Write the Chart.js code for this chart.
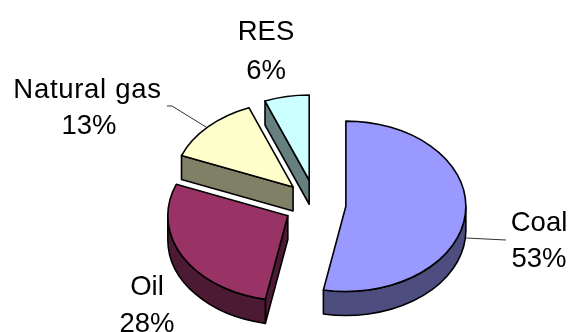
<!DOCTYPE html>
<html>
<head>
<meta charset="utf-8">
<style>
  html, body { margin: 0; padding: 0; background: #fff; overflow: hidden; }
  canvas { display: block; }
</style>
<script src="https://cdn.jsdelivr.net/npm/chart.js@4/dist/chart.umd.min.js"></script>
</head>
<body>
<canvas id="pie" width="568" height="332"></canvas>
<script>
// Shares of primary energy sources
const categories = ['Coal', 'Oil', 'Natural gas', 'RES'];
const shares = [53, 28, 13, 6];
const topColors = ['#9999FF', '#993366', '#FFFFCC', '#CCFFFF'];
const wallColors = ['#4D4D80', '#4D1A33', '#808066', '#668080'];

// Tilted-disc appearance and label placement
const tilt = { centerY: 204, squash: 0.71, explodeSquash: 0.78, depth: 24, explode: 31, edge: 1.6 };
const labelSpots = [
  { x: 539, y: 231, gap: 36, spacing: 0, valueShift: 0 },
  { x: 147, y: 295, gap: 37, spacing: 0, valueShift: 0 },
  { x: 87.5, y: 98, gap: 36, spacing: 0.7, valueShift: 1.5 },
  { x: 266, y: 40, gap: 39, spacing: 0, valueShift: 0 }
];
const leaders = [
  [[466, 238], [506, 240]],
  null,
  [[167, 106], [172, 106], [206, 127]],
  null
];

// Position of one exploded slice on the page, given its arc element
function sliceFrame(arc) {
  const p = arc.getProps(['x', 'y', 'startAngle', 'endAngle', 'outerRadius']);
  const mid = (p.startAngle + p.endAngle) / 2;
  return {
    start: p.startAngle,
    end: p.endAngle,
    r: p.outerRadius,
    x: p.x + Math.cos(mid) * tilt.explode,
    y: tilt.centerY + tilt.explodeSquash * Math.sin(mid) * tilt.explode,
    baseX: p.x,
    baseY: p.y
  };
}

function onRim(f, a) {
  return [f.x + f.r * Math.cos(a), f.y + f.r * tilt.squash * Math.sin(a)];
}

function fillStroke(ctx, color) {
  ctx.fillStyle = color;
  ctx.fill();
  ctx.stroke();
}

const tiltedPie = {
  id: 'tiltedPie',
  // Slices are painted one by one in beforeDatasetsDraw, each under its own transform
  beforeDatasetDraw() {
    return false;
  },
  beforeDatasetsDraw(chart) {
    const ctx = chart.ctx;
    const arcs = chart.getDatasetMeta(0).data;
    ctx.save();
    ctx.strokeStyle = '#000';
    ctx.lineWidth = tilt.edge;
    ctx.lineJoin = 'round';

    // Walls, back slices first
    for (let i = arcs.length - 1; i >= 0; i--) {
      const f = sliceFrame(arcs[i]);

      // Straight cut walls that face the viewer
      [[f.start, f.start - Math.PI / 2], [f.end, f.end + Math.PI / 2]].forEach(([a, normal]) => {
        if (Math.sin(normal) > 0.001) {
          const rim = onRim(f, a);
          ctx.beginPath();
          ctx.moveTo(f.x, f.y);
          ctx.lineTo(rim[0], rim[1]);
          ctx.lineTo(rim[0], rim[1] + tilt.depth);
          ctx.lineTo(f.x, f.y + tilt.depth);
          ctx.closePath();
          fillStroke(ctx, wallColors[i]);
        }
      });

      // Curved outer wall on the lower half of the rim
      const a0 = Math.max(f.start, 0);
      const a1 = Math.min(f.end, Math.PI);
      if (a1 > a0) {
        ctx.beginPath();
        ctx.ellipse(f.x, f.y, f.r, f.r * tilt.squash, 0, a0, a1);
        ctx.ellipse(f.x, f.y + tilt.depth, f.r, f.r * tilt.squash, 0, a1, a0, true);
        ctx.closePath();
        fillStroke(ctx, wallColors[i]);
      }
    }

    // Top faces: the library's arc elements, moved out and squashed
    arcs.forEach((arc) => {
      const f = sliceFrame(arc);
      ctx.save();
      ctx.translate(f.x, f.y);
      ctx.scale(1, tilt.squash);
      ctx.translate(-f.baseX, -f.baseY);
      arc.draw(ctx);
      ctx.restore();

      // Outline at an even line width
      ctx.beginPath();
      ctx.moveTo(f.x, f.y);
      ctx.ellipse(f.x, f.y, f.r, f.r * tilt.squash, 0, f.start, f.end);
      ctx.closePath();
      ctx.stroke();
    });

    // Leader lines
    ctx.strokeStyle = '#333';
    ctx.lineWidth = 1;
    leaders.forEach((line) => {
      if (!line) return;
      ctx.beginPath();
      line.forEach(([x, y], n) => (n ? ctx.lineTo(x, y) : ctx.moveTo(x, y)));
      ctx.stroke();
    });

    // Category and percentage labels
    ctx.fillStyle = '#000';
    ctx.font = '27.5px "Liberation Sans", Arial, sans-serif';
    ctx.textAlign = 'center';
    ctx.textBaseline = 'alphabetic';
    categories.forEach((name, i) => {
      const spot = labelSpots[i];
      ctx.letterSpacing = spot.spacing + 'px';
      ctx.fillText(name, spot.x, spot.y);
      ctx.letterSpacing = '0px';
      ctx.fillText(shares[i] + '%', spot.x + spot.valueShift, spot.y + spot.gap);
    });
    ctx.restore();
  }
};

new Chart(document.getElementById('pie'), {
  type: 'pie',
  data: {
    labels: categories,
    datasets: [{
      data: shares,
      backgroundColor: topColors,
      borderWidth: 0
    }]
  },
  options: {
    responsive: false,
    animation: false,
    layout: { padding: { left: 195, right: 133, top: 46, bottom: 46 } },
    plugins: { legend: { display: false }, tooltip: { enabled: false } },
    events: []
  },
  plugins: [tiltedPie]
});
</script>
</body>
</html>
